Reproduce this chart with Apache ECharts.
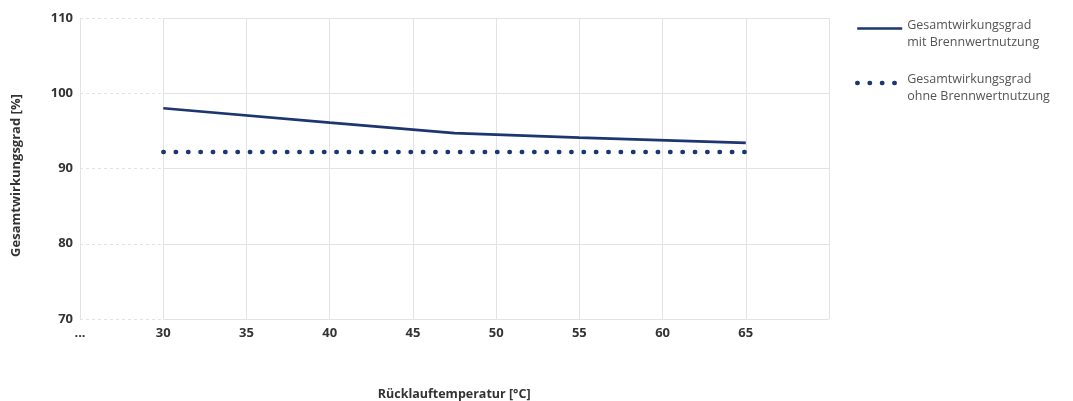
<!DOCTYPE html>
<html>
<head>
<meta charset="utf-8">
<script src="https://cdn.jsdelivr.net/npm/echarts@6/dist/echarts.min.js"></script>
<style>
html,body{margin:0;padding:0;background:#fff;}
#chart{width:1073px;height:401px;}
</style>
</head>
<body>
<div id="chart"></div>
<script>
// ---- data ----
const seriesNames = ['Gesamtwirkungsgrad\nmit Brennwertnutzung', 'Gesamtwirkungsgrad\nohne Brennwertnutzung'];
const withCondensing = [[30, 98.0], [40, 96.1], [47.5, 94.7], [55, 94.1], [65, 93.4]];
const withoutCondensing = [[30, 92.2], [65, 92.2]];
const yTicks = { min: 70, max: 110, interval: 10 };
const xBreak = { min: 25, max: 30 };
const xMain = { min: 30, max: 70, interval: 5 };
const breakLabel = '...';

const navy = '#1b3670';
const gridColor = '#e3e3e3';
const labelFont = { color: '#333', fontWeight: 'bold', fontSize: 13, fontFamily: 'Open Sans' };
const dotStyle = { color: navy, width: 4.4, type: [0.5, 11.86], cap: 'round' };

const chart = echarts.init(document.getElementById('chart'));
chart.setOption({
  animation: false,
  grid: [
    { left: 80, top: 18, width: 83.3, bottom: 82, containLabel: false, outerBoundsMode: 'none' },
    { left: 163.3, top: 18, right: 244, bottom: 82, containLabel: false, outerBoundsMode: 'none' }
  ],
  xAxis: [
    {
      gridIndex: 0, type: 'value', min: xBreak.min, max: xBreak.max, interval: 5,
      axisLine: { show: false }, axisTick: { show: false },
      axisLabel: Object.assign({ margin: 8, formatter: v => (v === xBreak.min ? breakLabel : '') }, labelFont),
      splitLine: { show: true, lineStyle: { color: gridColor, width: 1 } }
    },
    {
      gridIndex: 1, type: 'value', min: xMain.min, max: xMain.max, interval: xMain.interval,
      axisLine: { show: false }, axisTick: { show: false },
      axisLabel: Object.assign({ margin: 8, formatter: v => (v === xMain.max ? '' : String(v)) }, labelFont),
      splitLine: { show: true, lineStyle: { color: gridColor, width: 1 } },
      name: 'Rücklauftemperatur [°C]', nameLocation: 'middle', nameGap: 69,
      nameTextStyle: { color: '#333', fontWeight: 'bold', fontSize: 12.5, fontFamily: 'Open Sans', padding: [0, 84, 0, 0] }
    }
  ],
  yAxis: [
    {
      gridIndex: 0, type: 'value', min: yTicks.min, max: yTicks.max, interval: yTicks.interval,
      axisLine: { show: false }, axisTick: { show: false },
      axisLabel: Object.assign({ margin: 7 }, labelFont),
      splitLine: { show: true, lineStyle: { color: gridColor, width: 1, type: [3, 3] } },
      name: 'Gesamtwirkungsgrad [%]', nameLocation: 'middle', nameGap: 57, nameRotate: 90,
      nameTextStyle: { color: '#333', fontWeight: 'bold', fontSize: 13, fontFamily: 'Open Sans', padding: [0, 14, 0, 0] }
    },
    {
      gridIndex: 1, type: 'value', min: yTicks.min, max: yTicks.max, interval: yTicks.interval,
      axisLine: { show: false }, axisTick: { show: false }, axisLabel: { show: false },
      splitLine: { show: true, lineStyle: { color: gridColor, width: 1 } }
    }
  ],
  legend: {
    orient: 'vertical', left: 850, top: 3.5, itemWidth: 45, itemHeight: 10, itemGap: 14.5,
    itemStyle: { opacity: 0 },
    formatter: name => {
      const parts = name.split('\n');
      return '{e| }\n{t|' + parts[0] + '}\n{t|' + parts[1] + '}';
    },
    textStyle: {
      color: '#555', fontSize: 12.5, fontFamily: 'Open Sans',
      rich: {
        e: { fontSize: 6, lineHeight: 10 },
        t: { color: '#555', fontSize: 12.5, fontFamily: 'Open Sans', lineHeight: 17 }
      }
    },
    data: [
      { name: seriesNames[0], lineStyle: { color: navy, width: 2.6 } },
      { name: seriesNames[1], lineStyle: dotStyle }
    ]
  },
  series: [
    {
      name: seriesNames[0], type: 'line', xAxisIndex: 1, yAxisIndex: 1,
      data: withCondensing, symbol: 'none',
      lineStyle: { color: navy, width: 2.6 }, itemStyle: { color: navy }
    },
    {
      name: seriesNames[1], type: 'line', xAxisIndex: 1, yAxisIndex: 1,
      data: withoutCondensing, symbol: 'none',
      lineStyle: dotStyle, itemStyle: { color: navy }
    }
  ]
});
</script>
</body>
</html>
